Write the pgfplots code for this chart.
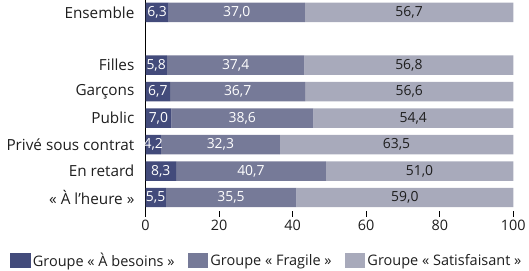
\documentclass[border=0pt]{standalone}
\usepackage{pgfplots}
\pgfplotsset{compat=1.18}
\usepackage{pgfplotstable}
\usepackage{fontspec}
\setmainfont{Open Sans}
\definecolor{cdark}{HTML}{434B7B}
\definecolor{cmid}{HTML}{767A98}
\definecolor{clight}{HTML}{A8AABB}
\definecolor{ctext}{HTML}{1E1E1E}
\pgfplotstableread{
y a b c
0 6.3 37.0 56.7
2 5.8 37.4 56.8
3 6.7 36.7 56.6
4 7.0 38.6 54.4
5 4.2 32.3 63.5
6 8.3 40.7 51.0
7 5.5 35.5 59.0
}\data
\pgfplotsset{
  common/.style={
    scale only axis, width=369bp, height=211bp,
    xmin=0, xmax=100, ymin=-0.45, ymax=7.5, y dir=reverse,
  },
}
\begin{document}
\begin{tikzpicture}[font=\fontsize{14}{16}\selectfont]
\begin{axis}[common,
  xbar stacked, bar width=19.5bp,
  axis x line*=bottom, axis y line*=left,
  x axis line style={draw=none},
  y axis line style={-, black, line width=0.8pt},
  xtick={0,20,40,60,80,100},
  xtick style={black, line width=0.8pt},
  tick align=outside, major tick length=6bp,
  ytick={0,2,3,4,5,6,7},
  yticklabels={Ensemble, Filles, Garçons, Public, Privé sous contrat, En retard, « À l’heure »},
  ytick style={draw=none},
  yticklabel style={text=ctext, inner sep=2bp, xshift=-3bp, font=\fontsize{15.4}{17}\selectfont},
  xticklabel style={text=ctext, font=\fontsize{14.5}{17}\selectfont},
  /pgf/number format/assume math mode=true,
  legend style={at={(-0.3686,-0.237)}, anchor=west, draw=none, legend columns=3,
    inner sep=0pt, outer sep=0pt, font=\fontsize{14.6}{17}\selectfont,
    nodes={inner sep=2bp},
    /tikz/every even column/.append style={column sep=11bp}, text=ctext},
  legend image code/.code={\fill[#1] (0bp,-7.5bp) rectangle (21bp,7.5bp);},
]
\addplot[fill=cdark, draw=none] table[x=a, y=y] {\data};
\addlegendentry{Groupe « À besoins »}
\addplot[fill=cmid, draw=none] table[x=b, y=y] {\data};
\addlegendentry{Groupe « Fragile »}
\addplot[fill=clight, draw=none] table[x=c, y=y] {\data};
\addlegendentry{Groupe « Satisfaisant »}
\end{axis}
\begin{axis}[common, hide axis,
  nodes near coords,
  point meta=explicit,
  nodes near coords style={anchor=center},
  /pgf/number format/use comma, /pgf/number format/fixed, /pgf/number format/fixed zerofill,
  /pgf/number format/precision=1, /pgf/number format/assume math mode=true,
]
\addplot[only marks, mark=none, nodes near coords style={text=white}] table[x expr=\thisrow{a}/2, y=y, meta=a] {\data};
\addplot[only marks, mark=none, nodes near coords style={text=white}] table[x expr=\thisrow{a}+\thisrow{b}/2, y=y, meta=b] {\data};
\addplot[only marks, mark=none, nodes near coords style={text=ctext}] table[x expr=\thisrow{a}+\thisrow{b}+\thisrow{c}/2, y=y, meta=c] {\data};
\end{axis}
\path ([xshift=-146bp]current axis.south west);
\end{tikzpicture}
\end{document}
